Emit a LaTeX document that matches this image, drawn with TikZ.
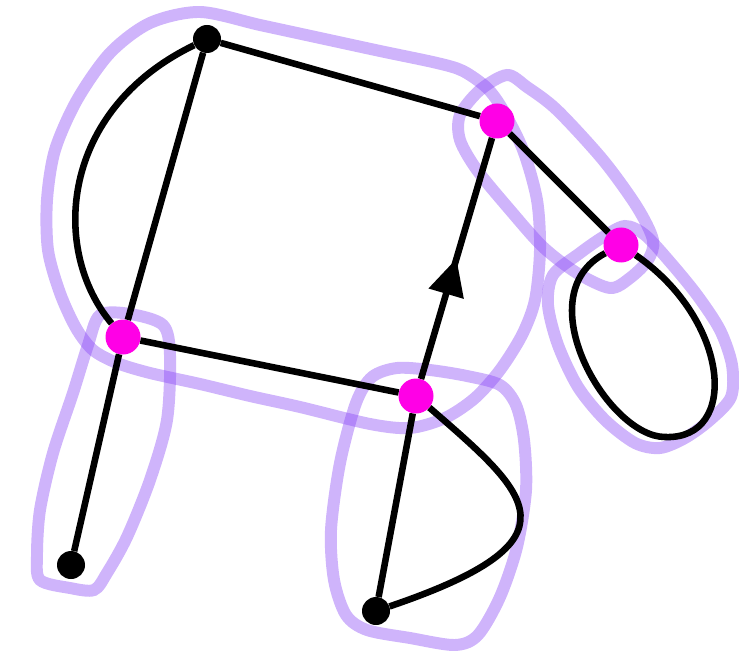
\documentclass[tikz,border=0pt]{standalone}
\usetikzlibrary{arrows.meta,decorations.markings}
\definecolor{hubcol}{RGB}{255,0,230}
\definecolor{hullcol}{RGB}{135,67,245}
\tikzset{
  blk/.style={circle,fill=black,inner sep=0pt,minimum size=0.84cm},
  hub/.style={circle,fill=hubcol,inner sep=0pt,minimum size=1.05cm},
  link/.style={line width=5.6pt},
  hull/.style={draw=hullcol,draw opacity=0.4,line width=10.2pt},
}

\begin{document}
\begin{tikzpicture}[x=0.03cm,y=-0.03cm]
\useasboundingbox (0,0) rectangle (739,656);
% hyperedges
\draw[hull] plot[smooth cycle] coordinates {(200,12) (260,25) (320,38) (380,51) (437,63)
  (463,71) (487,88) (503,110) (523,150) (537,200) (540,250) (535,300) (522,335)
  (500,370) (475,398) (445,418) (410,428) (370,424) (300,407) (250,396) (200,384)
  (150,373) (117,363) (93,350) (76,328) (60,293) (48,250) (47,200) (55,150) (77,100)
  (110,53) (150,23)};
\draw[hull] plot[smooth cycle] coordinates {(507,75) (527,87) (557,110) (603,160)
  (637,207) (653,240) (648,260) (630,278) (610,288) (577,273) (543,247) (510,210)
  (477,170) (460,140) (460,115) (480,90)};
\draw[hull] plot[smooth cycle] coordinates {(553,275) (580,253) (603,237) (625,226)
  (645,235) (670,262) (697,295) (720,330) (732,365) (731,397) (710,420) (685,438)
  (660,448) (635,443) (605,420) (578,387) (558,345) (548,305)};
\draw[hull] plot[smooth cycle] coordinates {(100,315) (130,314) (163,325) (170,355)
  (167,420) (150,480) (127,537) (107,573) (94,590) (70,588) (40,580) (37,555)
  (40,510) (53,453) (73,393) (88,345)};
\draw[hull] plot[smooth cycle] coordinates {(397,368) (430,370) (467,376) (500,385)
  (516,405) (524,440) (526,490) (517,547) (500,597) (478,635) (455,645) (410,638)
  (367,630) (346,615) (334,580) (331,530) (340,463) (356,403) (372,377)};
% vertices
\node[blk] (vt) at (207,39) {};
\node[hub] (va) at (497,121) {};
\node[hub] (vb) at (621,245) {};
\node[hub] (vc) at (123,337) {};
\node[hub] (vd) at (416,396) {};
\node[blk] (vl) at (71,565) {};
\node[blk] (vm) at (376,611) {};
\coordinate (lp) at (665,437);
% edges
\draw[link] (vt) -- (va);
\draw[link] (vt) -- (vc);
\draw[link] (vt) .. controls (60,110) and (50,250) .. (vc);
\draw[link] (vc) -- (vd);
\draw[link] (va) -- (vb);
\draw[link] (vc) -- (vl);
\draw[link] (vd) -- (vm);
\draw[link,postaction={decorate},decoration={markings,
  mark=at position 0.5 with {\arrow{Triangle[length=1.1cm,width=1.05cm]}}}] (vd) -- (va);
\draw[link] (vd) .. controls (530,495) and (585,540) .. (vm);
\draw[link] (vb) .. controls (525,295) and (608,437) .. (lp)
  .. controls (740,440) and (730,320) .. (vb);
\end{tikzpicture}
\end{document}
